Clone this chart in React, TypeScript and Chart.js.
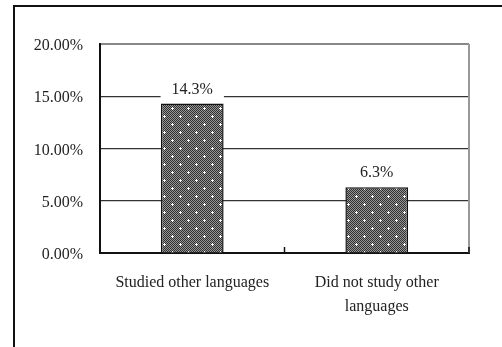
import React, { useEffect, useRef } from "react";
import { Chart, registerables } from "chart.js";

Chart.register(...registerables);

const categories: (string | string[])[] = [
  "Studied other languages",
  ["Did not study other", "languages"],
];
const values: number[] = [14.3, 6.3];
const valueLabels: string[] = ["14.3%", "6.3%"];
const yTicks: number[] = [0, 5, 10, 15, 20];

const FONT = "'Liberation Serif', 'Times New Roman', serif";

function makePattern(): CanvasPattern | string {
  const c = document.createElement("canvas");
  c.width = 16;
  c.height = 16;
  const g = c.getContext("2d");
  if (!g) return "#777";
  for (let y = 0; y < 16; y++) {
    for (let x = 0; x < 16; x++) {
      g.fillStyle = (x + y) % 2 === 0 ? "#303030" : "#969696";
      g.fillRect(x, y, 1, 1);
    }
  }
  const dot = (cx: number, cy: number) => {
    g.fillStyle = "#ffffff";
    g.fillRect(cx, cy, 1, 1);
    g.fillRect(cx - 1, cy, 1, 1);
    g.fillRect(cx + 1, cy, 1, 1);
    g.fillRect(cx, cy - 1, 1, 1);
    g.fillRect(cx, cy + 1, 1, 1);
  };
  dot(4, 4);
  dot(12, 12);
  const p = g.createPattern(c, "repeat");
  return p || "#777";
}

const framePlugin = {
  id: "frame",
  beforeDraw(chart: any) {
    const ctx = chart.ctx;
    ctx.save();
    ctx.fillStyle = "#ffffff";
    ctx.fillRect(0, 0, chart.width, chart.height);
    ctx.strokeStyle = "#111";
    ctx.lineWidth = 2;
    ctx.beginPath();
    ctx.moveTo(14, chart.height);
    ctx.lineTo(14, 6);
    ctx.lineTo(chart.width, 6);
    ctx.stroke();
    ctx.restore();
  },
  afterDatasetsDraw(chart: any) {
    const ctx = chart.ctx;
    const area = chart.chartArea;
    const xs = chart.scales.x;
    ctx.save();
    // right plot border
    ctx.strokeStyle = "#999";
    ctx.lineWidth = 2;
    ctx.beginPath();
    ctx.moveTo(area.right, area.top);
    ctx.lineTo(area.right, area.bottom);
    ctx.stroke();
    // inward category ticks
    ctx.strokeStyle = "#111";
    ctx.lineWidth = 1.5;
    const n = categories.length;
    for (let i = 0; i < n; i++) {
      const x1 = xs.getPixelForValue(i);
      const x2 = i + 1 < n ? xs.getPixelForValue(i + 1) : null;
      const bx = x2 !== null ? (x1 + x2) / 2 : area.right;
      ctx.beginPath();
      ctx.moveTo(bx, area.bottom);
      ctx.lineTo(bx, area.bottom - 6);
      ctx.stroke();
    }
    // value labels
    const meta = chart.getDatasetMeta(0);
    ctx.font = `16px ${FONT}`;
    ctx.textAlign = "center";
    ctx.textBaseline = "middle";
    meta.data.forEach((bar: any, i: number) => {
      const text = valueLabels[i];
      const w = ctx.measureText(text).width + 22;
      const cy = bar.y - 15;
      ctx.fillStyle = "#ffffff";
      ctx.fillRect(bar.x - w / 2, cy - 10, w, 20);
      ctx.fillStyle = "#222";
      ctx.fillText(text, bar.x, cy + 1);
    });
    ctx.restore();
  },
};

export default function App() {
  const ref = useRef<HTMLCanvasElement>(null);
  useEffect(() => {
    if (!ref.current) return;
    const pattern = makePattern();
    const chart = new Chart(ref.current, {
      type: "bar",
      data: {
        labels: categories,
        datasets: [
          {
            data: values,
            backgroundColor: pattern as any,
            borderColor: "#111",
            borderWidth: 1.5,
            barPercentage: 0.34,
            categoryPercentage: 1,
          },
        ],
      },
      options: {
        responsive: false,
        animation: false,
        devicePixelRatio: 1,
        layout: { padding: { left: 0, top: 44, right: 33, bottom: 0 } },
        plugins: {
          legend: { display: false },
          tooltip: { enabled: false },
        },
        scales: {
          x: {
            offset: true,
            grid: { display: false, drawTicks: false },
            border: { display: true, color: "#111", width: 2 },
            ticks: {
              color: "#222",
              padding: 17,
              maxRotation: 0,
              autoSkip: false,
              font: { family: FONT, size: 16, lineHeight: 1.55 },
            },
            afterFit: (s: any) => {
              s.height = 94;
            },
          },
          y: {
            min: 0,
            max: 20,
            afterBuildTicks: (s: any) => {
              s.ticks = yTicks.map((v) => ({ value: v }));
            },
            grid: {
              drawTicks: false,
              color: (c: any) =>
                c.tick && c.tick.value === 20
                  ? "#888"
                  : c.tick && c.tick.value === 0
                  ? "rgba(0,0,0,0)"
                  : "#333",
              lineWidth: (c: any) => (c.tick && c.tick.value === 20 ? 2 : 1.2),
            },
            border: { display: true, color: "#111", width: 2 },
            ticks: {
              color: "#222",
              padding: 17,
              labelOffset: 2,
              font: { family: FONT, size: 16 },
              callback: (v: any) => Number(v).toFixed(2) + "%",
            },
            afterFit: (s: any) => {
              s.width = 100;
            },
          },
        },
      },
      plugins: [framePlugin],
    });
    return () => chart.destroy();
  }, []);
  return (
    <div style={{ position: "absolute", left: 0, top: 0, width: 502, height: 347 }}>
      <canvas ref={ref} width={502} height={347} style={{ display: "block" }} />
    </div>
  );
}
